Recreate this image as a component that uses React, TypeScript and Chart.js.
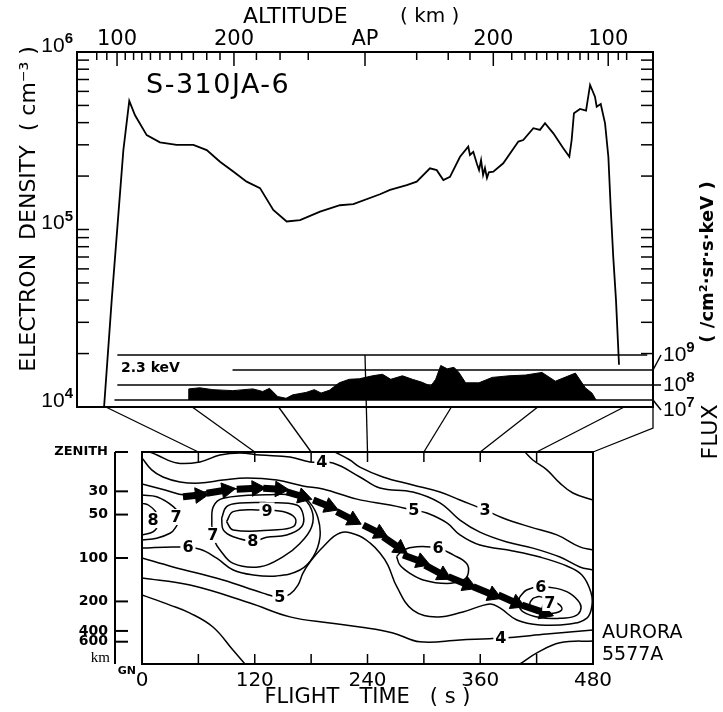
import React, { useEffect, useRef } from 'react';
import { Chart, registerables } from 'chart.js';

Chart.register(...registerables);

const FONT = 'DejaVu Sans';
const NUM_FONT = '"Liberation Sans"';

// ---------------- top panel : electron density ----------------
const densityTime = [58.8, 64.1, 72.2, 76.3, 80.3, 88.4, 97.6, 109.2, 120.8, 130.1, 139.3, 148.5, 157.8, 167.1, 176.3, 185.6, 194.9, 208.8, 222.6, 231.9, 250.4, 257.4, 269.0, 275.9, 285.1, 289.8, 294.4, 299.0, 306.0, 311.7, 312.9, 315.2, 317.6, 319.2, 320.6, 322.0, 323.3, 324.7, 326.0, 329.1, 336.0, 346.5, 349.9, 356.9, 361.5, 365.0, 370.8, 377.7, 381.9, 383.5, 385.1, 389.3, 393.5, 396.3, 399.7, 400.9, 403.7, 406.7, 409.0, 410.6, 412.4, 414.3, 416.4];
const densityValue = [1.0e4, 4.0e4, 2.8e5, 5.3e5, 4.4e5, 3.4e5, 3.1e5, 3.0e5, 3.0e5, 2.8e5, 2.41e5, 2.12e5, 1.86e5, 1.71e5, 1.29e5, 1.11e5, 1.13e5, 1.26e5, 1.37e5, 1.39e5, 1.58e5, 1.67e5, 1.78e5, 1.86e5, 2.21e5, 2.16e5, 1.90e5, 1.98e5, 2.57e5, 2.93e5, 2.63e5, 2.74e5, 2.36e5, 2.16e5, 2.46e5, 2.03e5, 2.22e5, 1.95e5, 2.10e5, 2.12e5, 2.36e5, 3.13e5, 3.19e5, 3.72e5, 3.64e5, 3.97e5, 3.48e5, 2.87e5, 2.57e5, 3.19e5, 4.52e5, 4.78e5, 4.67e5, 6.52e5, 5.60e5, 4.92e5, 5.09e5, 3.96e5, 2.57e5, 1.34e5, 7.0e4, 4.0e4, 1.73e4];
const densityTickValues = [1e4, 1e5, 1e6];
const densityTickExp = ['4', '5', '6'];
const densityInnerTicks = [2e4, 3e4, 4e4, 5e4, 6e4, 7e4, 8e4, 9e4, 1e5, 2e5, 3e5, 4e5, 5e5, 6e5, 7e5, 8e5, 9e5];

// altitude (top) axis, positions given in flight time
const altMajorTime = [67.8, 149.0, 240, 329.1, 408.9];
const altMajorLabel = ['100', '200', 'AP', '200', '100'];
const altMinorTime = [53.7, 60.7, 73.5, 79.3, 85.0, 91.0, 97.6, 104.6, 112.7, 120.8, 130.1, 139.3, 164.6, 181.0, 200.6,
  275.9, 297.8, 312.9, 341.9, 351.1, 359.2, 366.2, 373.8, 381.2, 389.3, 395.1, 402.0, 415.9, 421.7];

// 2.3 keV electron flux
const fluxTime = [117.5, 117.6, 125.2, 134.4, 148.2, 162.1, 169.0, 173.7, 179.4, 185.2, 189.8, 199.1, 204.8, 209.5, 215.2, 222.1, 229.1, 236.0, 245.2, 252.1, 257.9, 266.0, 272.9, 279.8, 285.6, 289.1, 292.6, 297.1, 301.8, 305.2, 309.9, 319.1, 328.3, 339.9, 351.4, 362.9, 372.2, 386.1, 393.0, 397.6, 400.0, 400.5];
const fluxValue = [1e7, 5.5e7, 6.5e7, 4.9e7, 4.2e7, 5.5e7, 3.7e7, 6.0e7, 1.7e7, 1.3e7, 2.2e7, 3.2e7, 4.9e7, 2.9e7, 4.4e7, 1.4e8, 2.4e8, 2.6e8, 4.1e8, 5.2e8, 2.4e8, 4.1e8, 2.4e8, 1.5e8, 8.3e7, 2.4e8, 2.0e9, 1.2e9, 1.5e9, 6.9e8, 1.4e8, 1.4e8, 3.2e8, 4.1e8, 4.6e8, 6.9e8, 1.8e8, 6.2e8, 6.5e7, 2.9e7, 1.2e7, 1e7];
const fluxRefLevel = [1e10, 1e9, 1e8, 1e7];
const fluxRefStart = [68, 148, 68, 66];
const fluxRefEnd = [436, 440, 440, 440];
const fluxTickValues = [1e9, 1e8, 1e7];
const fluxTickExp = ['9', '8', '7'];
const apogeeTime = 240;

// ---------------- bottom panel : 5577A aurora contours ----------------
const timeTickValues = [0, 120, 240, 360, 480];
const innerTimeTicks = [60, 120, 180, 240, 300, 360, 420];
const zenithTickKm = [0, 30, 50, 100, 200, 400, 600];
const zenithTickLabels = ['ZENITH', '30', '50', '100', '200', '400', '600'];

// contours: [flight time (s), zenith angle (deg)]
const contour9 = [[90, 29.6], [97, 25.3], [126, 24.6], [150, 25.3], [163, 28.1], [161, 31.7], [140, 33.1], [97, 33.1], [90, 29.6]];
const contour8 = [[84.8, 28.1], [90.1, 23.2], [104.3, 21.7], [132.7, 21.5], [164.6, 22.5], [171.6, 26.7], [169.9, 31.7], [154.0, 35.2], [132.7, 36.2], [118.4, 37.8], [97.1, 36.0], [86.5, 33.1], [84.8, 28.1]];
const contour7 = [[74.2, 31.0], [75.9, 23.2], [86.5, 19.6], [132.7, 18.2], [168.1, 19.0], [180.6, 24.6], [180.6, 31.7], [168.1, 38.8], [150.3, 44.4], [125.6, 48.7], [97.1, 47.3], [83.0, 41.6], [77.7, 38.1], [74.2, 31.0]];
const contourLeft8 = [[0, 21.8], [6.7, 22.5], [15.6, 26.0], [17.4, 30.3], [12.1, 33.8], [0, 35.2]];
const contourLeft7 = [[0, 18.3], [15.6, 19.0], [33.3, 23.2], [40.4, 27.5], [35.1, 32.4], [29.8, 34.5], [15.6, 36.6], [0, 37.4]];
const contour6 = [[0, 40.8], [36.9, 40.3], [61.7, 41.3], [79.5, 45.1], [97.1, 50.1], [118.4, 52.2], [143.3, 52.6], [168.1, 50.1], [182.3, 44.4], [189.4, 36.1], [187.3, 28.0], [178.8, 21.6], [166.0, 17.8], [146.8, 16.1], [120.2, 15.7], [93.6, 15.7], [67.0, 17.0], [45.8, 18.3], [24.5, 16.1], [0, 13.6]];
const contour5 = [[0, 2.5], [10.3, 7.6], [22.3, 10.6], [40.4, 12.7], [61.7, 13.2], [86.2, 11.9], [111.7, 11.0], [143.6, 11.9], [171.3, 14.4], [192.6, 15.7], [228.8, 20.0], [263.9, 22.5], [288.3, 24.6], [303.2, 25.9], [324.5, 30.1], [338.4, 35.2], [359.6, 39.5], [394.7, 42.0], [423.5, 44.6], [452.2, 48.4], [468.2, 52.2], [477.7, 59.4], [478.8, 65.4], [473.5, 70.5], [455.4, 73.0], [423.5, 73.4], [399.0, 71.3], [380.9, 66.2], [370.3, 64.5], [341.5, 67.9], [313.9, 70.0], [288.3, 67.1], [271.3, 57.3], [261.7, 48.0], [253.2, 42.9], [242.6, 38.6], [228.8, 35.2], [210.7, 34.4], [192.6, 40.3], [178.8, 46.7], [171.3, 51.4], [166.0, 56.5], [157.5, 60.3], [146.8, 61.6], [128.7, 59.9], [86.2, 54.3], [33.0, 48.8], [0, 45.0]];
const contour4Top = [[8.5, 0], [16.0, 1.3], [37.2, 4.7], [61.7, 4.2], [83.0, 1.3], [104.3, 0.4], [125.6, 1.3], [157.5, 2.1], [178.8, 4.2], [203.2, 4.7], [231.9, 10.6], [253.2, 15.3], [288.3, 17.0], [317.1, 21.6], [338.4, 28.9], [359.6, 34.0], [388.4, 38.2], [416.0, 40.8], [444.8, 44.6], [466.0, 48.8], [480, 50.1]];
const contour3Top = [[205.4, 0], [221.3, 3.4], [231.9, 6.4], [256.4, 10.6], [288.3, 14.0], [317.1, 17.0], [338.4, 20.4], [365, 24.6], [384.1, 28.0], [412.8, 31.8], [441.6, 35.2], [466.0, 40.3], [480, 41.6]];
const contour2 = [[407.5, 0], [416.0, 3.4], [430.9, 7.6], [444.8, 13.2], [458.6, 17.4], [480, 20.4]];
const contour4Bottom = [[0, 53.5], [51.1, 56.5], [114.9, 64.1], [157.5, 70.0], [200.0, 72.6], [231.9, 74.3], [267.1, 76.8], [295.8, 80.6], [338.4, 79.8], [382.0, 79.0], [430.9, 77.3], [480, 75.6]];
const contour3BottomLeft = [[0, 60.7], [29.8, 65.0], [51.1, 68.4], [75.5, 74.3], [96.8, 84.1], [109.6, 90]];
const contour3BottomRight = [[402.2, 90], [420.3, 85.3], [444.8, 81.0], [480, 80.2]];
const contour6Mid = [[271.0, 44.4], [278.1, 41.6], [292.3, 40.2], [315.0, 40.8], [331.2, 43.7], [345.5, 47.3], [347.2, 51.5], [341.9, 54.3], [324.2, 55.8], [299.3, 54.3], [285.1, 51.5], [274.5, 48.0], [271.0, 44.4]];
const contour6Right = [[402.2, 61.4], [409.3, 58.6], [423.5, 57.2], [441.2, 57.9], [455.4, 60.0], [466.0, 64.2], [466.5, 67.5], [460.0, 69.8], [444.8, 70.6], [423.5, 70.3], [405.7, 67.9], [400.4, 64.2], [402.2, 61.4]];
const contour7Right = [[416.3, 62.1], [423.5, 61.4], [436.3, 63.3], [444.8, 65.0], [446.6, 67.1], [437.7, 68.5], [423.5, 68.5], [414.6, 67.1], [412.8, 64.2], [416.3, 62.1]];

const contourLabelText = ['8', '7', '6', '9', '8', '7', '5', '5', '3', '4', '6', '6', '7', '4'];
const contourLabelT = [11.7, 36.2, 48.9, 133, 118, 75.5, 146.8, 289.4, 365, 191.5, 315, 424.5, 434, 382];
const contourLabelA = [28.9, 27.6, 40.3, 24.8, 37.8, 35.2, 61.6, 24.6, 24.6, 4.2, 40.6, 57.3, 64.1, 79.0];

// motion of the aurora (arrows): tail / head in [time, zenith angle]
const arrowTail = [[43.6, 19.0], [68.8, 17.5], [100.8, 15.8], [129.1, 15.4], [154.0, 16.9], [182.3, 20.4], [207.2, 25.3], [235.5, 31.0], [256.7, 36.0], [278.0, 43.7], [301.1, 48.0], [325.9, 52.9], [352.5, 57.2], [379.1, 60.7], [404.3, 65.0]];
const arrowHead = [[61.7, 18.3], [90.1, 16.1], [122.0, 15.4], [146.8, 15.8], [171.6, 19.0], [200.0, 23.2], [224.8, 28.9], [253.2, 34.5], [274.5, 40.9], [297.6, 46.6], [320.6, 52.2], [347.2, 56.5], [373.8, 60.7], [398.7, 64.2], [428.8, 68.3]];

const contours = [contour9, contour8, contour7, contourLeft8, contourLeft7, contour6, contour5, contour4Top, contour3Top, contour2, contour4Bottom, contour3BottomLeft, contour3BottomRight, contour6Mid, contour6Right, contour7Right];

function seg(ctx: CanvasRenderingContext2D, x1: number, y1: number, x2: number, y2: number) {
  ctx.beginPath();
  ctx.moveTo(x1, y1);
  ctx.lineTo(x2, y2);
  ctx.stroke();
}

function powerLabel(ctx: CanvasRenderingContext2D, exp: string, x: number, y: number, align: 'left' | 'right') {
  ctx.textBaseline = 'middle';
  ctx.textAlign = 'left';
  ctx.font = `21px ${NUM_FONT}`;
  const w1 = ctx.measureText('10').width;
  ctx.font = `bold 15px ${NUM_FONT}`;
  const w2 = ctx.measureText(exp).width;
  const x0 = align === 'left' ? x : x - w1 - w2;
  ctx.font = `21px ${NUM_FONT}`;
  ctx.fillText('10', x0, y);
  ctx.font = `bold 15px ${NUM_FONT}`;
  ctx.fillText(exp, x0 + w1, y - 7);
}

const topDecor = {
  id: 'topDecor',
  afterDraw(chart: any) {
    const { ctx, chartArea: a, scales } = chart;
    const x = scales.x, y = scales.y, yF = scales.yFlux;
    ctx.save();
    ctx.strokeStyle = '#000';
    ctx.fillStyle = '#000';
    ctx.lineWidth = 1.5;
    densityInnerTicks.forEach((v) => {
      const py = y.getPixelForValue(v);
      seg(ctx, a.left, py, a.left + 12, py);
      seg(ctx, a.right, py, a.right - 12, py);
    });
    altMinorTime.forEach((t) => {
      const px = x.getPixelForValue(t);
      seg(ctx, px, a.top, px, a.top + 8);
    });
    altMajorTime.forEach((t) => {
      const px = x.getPixelForValue(t);
      seg(ctx, px, a.top, px, a.top + 14);
    });
    // density tick labels (powers of ten)
    densityTickValues.forEach((v, i) => {
      powerLabel(ctx, densityTickExp[i], a.left - 4, y.getPixelForValue(v) - 6, 'right');
    });
    // flux tick labels with leader lines
    const labelDy = [-15, 0, 10];
    fluxTickValues.forEach((v, i) => {
      const py = yF.getPixelForValue(v);
      const ly = py + labelDy[i];
      seg(ctx, a.right, py, a.right + 8, ly);
      powerLabel(ctx, fluxTickExp[i], a.right + 10, ly, 'left');
    });
    ctx.textAlign = 'left';
    ctx.textBaseline = 'middle';
    ctx.font = `27px ${FONT}`;
    (ctx as any).letterSpacing = '1.5px';
    ctx.fillText('S-310JA-6', 146, 86);
    (ctx as any).letterSpacing = '0px';
    ctx.font = `bold 14px ${FONT}`;
    ctx.fillText('2.3 keV', 121, 368);
    ctx.font = `22px ${FONT}`;
    ctx.fillText('ALTITUDE', 243, 17);
    ctx.font = `20px ${FONT}`;
    ctx.fillText('( km )', 400, 17);
    ctx.textAlign = 'center';
    ctx.save();
    ctx.translate(29, 209);
    ctx.rotate(-Math.PI / 2);
    ctx.font = `22px ${FONT}`;
    ctx.fillText('ELECTRON  DENSITY  ( cm⁻³ )', 0, 0);
    ctx.restore();
    ctx.save();
    ctx.translate(711, 432);
    ctx.rotate(-Math.PI / 2);
    ctx.font = `22px ${FONT}`;
    ctx.fillText('FLUX', 0, 0);
    ctx.restore();
    ctx.save();
    ctx.translate(708, 262);
    ctx.rotate(-Math.PI / 2);
    ctx.font = `bold 18px ${FONT}`;
    ctx.fillText('( /cm²·sr·s·keV )', 0, 0);
    ctx.restore();
    ctx.restore();
  },
};

function makeBotDecor(top: any) {
  return {
    id: 'botDecor',
    afterDatasetsDraw(chart: any) {
      const { ctx, scales } = chart;
      const x = scales.x, y = scales.y;
      ctx.save();
      ctx.font = `600 16px ${FONT}`;
      ctx.textAlign = 'center';
      ctx.textBaseline = 'middle';
      contourLabelText.forEach((lab, i) => {
        const px = x.getPixelForValue(contourLabelT[i]);
        const py = y.getPixelForValue(contourLabelA[i]);
        const w = ctx.measureText(lab).width;
        ctx.fillStyle = '#fff';
        ctx.fillRect(px - w / 2 - 2, py - 8, w + 4, 16);
        ctx.fillStyle = '#000';
        ctx.fillText(lab, px, py + 1);
      });
      ctx.restore();
    },
    afterDraw(chart: any) {
      const { ctx, chartArea: a, scales } = chart;
      const x = scales.x, y = scales.y;
      const ta = top.chartArea, tx = top.scales.x, tyF = top.scales.yFlux;
      ctx.save();
      ctx.strokeStyle = '#000';
      ctx.fillStyle = '#000';
      ctx.lineWidth = 2;
      ctx.strokeRect(a.left, a.top, a.right - a.left, a.bottom - a.top);
      ctx.lineWidth = 1.5;
      innerTimeTicks.forEach((t) => {
        const px = x.getPixelForValue(t);
        seg(ctx, px, a.bottom, px, a.bottom - 10);
        seg(ctx, px, a.top, px, a.top + 10);
      });
      // zenith axis
      const ax = a.left - 27;
      ctx.lineWidth = 2;
      seg(ctx, ax, y.getPixelForValue(0), ax, y.getPixelForValue(90));
      y.ticks.forEach((tk: any) => {
        const py = y.getPixelForValue(tk.value);
        seg(ctx, ax, py, ax + 13, py);
      });
      // connectors between the panels
      ctx.lineWidth = 1.3;
      innerTimeTicks.forEach((t) => {
        const y0 = t === apogeeTime ? tyF.getPixelForValue(1e10) : ta.bottom;
        seg(ctx, tx.getPixelForValue(t), y0, x.getPixelForValue(t), a.top);
      });
      ctx.beginPath();
      ctx.moveTo(ta.right, ta.bottom);
      ctx.lineTo(ta.right, ta.bottom + 21);
      ctx.lineTo(a.right, a.top);
      ctx.stroke();
      // texts
      ctx.textAlign = 'left';
      ctx.textBaseline = 'alphabetic';
      ctx.font = `19px ${FONT}`;
      ctx.fillText('AURORA', a.right + 9, 638);
      ctx.fillText('5577A', a.right + 9, 660);
      ctx.textAlign = 'right';
      ctx.font = `15px "Liberation Serif"`;
      ctx.fillText('km', a.left - 32, a.bottom - 2);
      ctx.font = `bold 11px ${FONT}`;
      ctx.fillText('GN', a.left - 6, a.bottom + 10);
      ctx.restore();
    },
  };
}

export default function App() {
  const topRef = useRef<HTMLCanvasElement>(null);
  const botRef = useRef<HTMLCanvasElement>(null);

  useEffect(() => {
    Chart.defaults.font.family = FONT;
    Chart.defaults.color = '#000';
    const black = '#000';

    const topChart = new Chart(topRef.current as HTMLCanvasElement, {
      type: 'line',
      data: {
        datasets: [
          {
            data: densityTime.map((t, i) => ({ x: t, y: densityValue[i] })),
            xAxisID: 'x', yAxisID: 'y',
            borderColor: black, borderWidth: 1.8, pointRadius: 0, tension: 0, fill: false,
          },
          {
            data: fluxTime.map((t, i) => ({ x: t, y: fluxValue[i] })),
            xAxisID: 'x', yAxisID: 'yFlux',
            borderColor: black, backgroundColor: black, borderWidth: 1, pointRadius: 0, tension: 0,
            fill: { value: 1e7 },
          },
          ...fluxRefLevel.map((lv, i) => ({
            data: [{ x: fluxRefStart[i], y: lv }, { x: fluxRefEnd[i], y: lv }],
            xAxisID: 'x', yAxisID: 'yFlux',
            borderColor: black, borderWidth: 1.5, pointRadius: 0, fill: false,
          })),
        ],
      } as any,
      options: {
        responsive: false,
        animation: false,
        events: [],
        layout: { padding: { left: 0, right: 0, top: 0, bottom: 305 } },
        plugins: { legend: { display: false }, tooltip: { enabled: false } },
        scales: {
          x: {
            type: 'linear', min: 40, max: 440, position: 'bottom',
            ticks: { display: false },
            grid: { display: true, drawOnChartArea: false, drawTicks: false },
            border: { display: true, color: black, width: 2 },
            afterFit: (s: any) => { s.height = 0; },
          },
          xAlt: {
            type: 'linear', min: 40, max: 440, position: 'top',
            afterBuildTicks: (s: any) => { s.ticks = altMajorTime.map((v) => ({ value: v })); },
            ticks: {
              callback: (_v: any, i: number) => altMajorLabel[i],
              autoSkip: false, maxRotation: 0, padding: 0,
              font: { size: 21, family: FONT }, color: black,
            },
            grid: { display: true, drawOnChartArea: false, drawTicks: false },
            border: { display: true, color: black, width: 2 },
            afterFit: (s: any) => { s.height = 52; },
          },
          y: {
            type: 'logarithmic', min: 1e4, max: 1e6, position: 'left',
            afterBuildTicks: (s: any) => { s.ticks = densityTickValues.map((v) => ({ value: v })); },
            ticks: { display: false },
            grid: { display: true, drawOnChartArea: false, drawTicks: false },
            border: { display: true, color: black, width: 2 },
            afterFit: (s: any) => { s.width = 77; },
          },
          yR: {
            type: 'logarithmic', min: 1e4, max: 1e6, position: 'right',
            ticks: { display: false },
            grid: { display: true, drawOnChartArea: false, drawTicks: false },
            border: { display: true, color: black, width: 2 },
            afterFit: (s: any) => { s.width = 70; },
          },
          yFlux: {
            type: 'logarithmic', min: Math.pow(10, 6.533), max: Math.pow(10, 30.2), display: false,
          },
        },
      } as any,
      plugins: [topDecor],
    });

    const botChart = new Chart(botRef.current as HTMLCanvasElement, {
      type: 'scatter',
      data: {
        datasets: [
          ...contours.map((c) => ({
            data: c.map((p) => ({ x: p[0], y: p[1] })),
            showLine: true, borderColor: black, borderWidth: 1.5, pointRadius: 0, tension: 0.4, fill: false,
          })),
          {
            data: arrowTail.flatMap((p, i) => [{ x: p[0], y: p[1] }, { x: arrowHead[i][0], y: arrowHead[i][1] }]),
            showLine: true, borderColor: black, borderWidth: 7, borderCapStyle: 'butt', pointRadius: 0, tension: 0,
            segment: { borderColor: (c: any) => (c.p0DataIndex % 2 === 0 ? black : 'rgba(0,0,0,0)') },
          },
          {
            data: arrowHead.map((p) => ({ x: p[0], y: p[1] })),
            showLine: false, pointStyle: 'triangle', pointRadius: 9,
            pointBackgroundColor: black, pointBorderColor: black, pointBorderWidth: 1,
            pointRotation: (c: any) => {
              const xs = c.chart.scales.x, ys = c.chart.scales.y;
              const i = c.dataIndex;
              if (!xs || !ys || i === undefined) return 0;
              const dx = xs.getPixelForValue(arrowHead[i][0]) - xs.getPixelForValue(arrowTail[i][0]);
              const dy = ys.getPixelForValue(arrowHead[i][1]) - ys.getPixelForValue(arrowTail[i][1]);
              return (Math.atan2(dy, dx) * 180) / Math.PI + 90;
            },
          },
        ],
      } as any,
      options: {
        responsive: false,
        animation: false,
        events: [],
        layout: { padding: { left: 0, right: 130, top: 452, bottom: 0 } },
        plugins: { legend: { display: false }, tooltip: { enabled: false } },
        scales: {
          x: {
            type: 'linear', min: 0, max: 480, position: 'bottom',
            afterBuildTicks: (s: any) => { s.ticks = timeTickValues.map((v) => ({ value: v })); },
            ticks: { autoSkip: false, maxRotation: 0, padding: 5, font: { size: 20, family: FONT }, color: black },
            grid: { display: true, drawOnChartArea: false, drawTicks: false },
            border: { display: true, color: black, width: 2 },
            title: { display: true, text: 'FLIGHT   TIME   ( s )', font: { size: 21, family: FONT }, color: black, padding: { top: 0, bottom: 2 } },
            afterFit: (s: any) => { s.height = 48; },
          },
          y: {
            type: 'linear', min: 0, max: 90, reverse: true, position: 'left',
            afterBuildTicks: (s: any) => {
              s.ticks = zenithTickKm.map((km) => ({ value: (Math.atan(km / 100) * 180) / Math.PI }));
            },
            ticks: {
              callback: (_v: any, i: number) => zenithTickLabels[i],
              autoSkip: false, padding: 34, color: black,
              font: (c: any) => (c.index === 0 ? { size: 13, weight: 'bold', family: FONT } : { size: 14, weight: 'bold', family: FONT }),
            },
            grid: { display: true, drawOnChartArea: false, drawTicks: false },
            border: { display: false },
            afterFit: (s: any) => { s.width = 142; },
          },
        },
      } as any,
      plugins: [makeBotDecor(topChart)],
    });

    return () => {
      botChart.destroy();
      topChart.destroy();
    };
  }, []);

  return (
    <div style={{ position: 'absolute', left: 0, top: 0, width: 723, height: 712, background: '#fff' }}>
      <canvas ref={topRef} width={723} height={712} style={{ position: 'absolute', left: 0, top: 0 }} />
      <canvas ref={botRef} width={723} height={712} style={{ position: 'absolute', left: 0, top: 0 }} />
    </div>
  );
}
